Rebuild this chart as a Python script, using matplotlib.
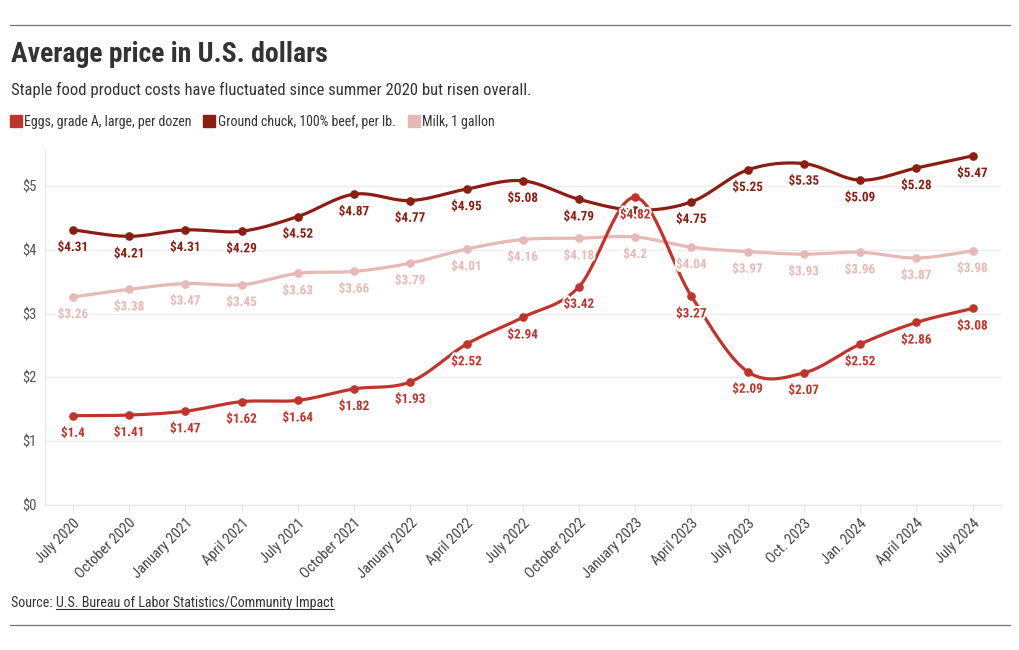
import numpy as np
import matplotlib
matplotlib.use("Agg")
import matplotlib.pyplot as plt
from matplotlib.lines import Line2D
import matplotlib.patheffects as pe

plt.rcParams['font.family'] = ['Roboto Condensed', 'Liberation Sans Narrow', 'Roboto', 'DejaVu Sans']

months = ["July 2020", "October 2020", "January 2021", "April 2021", "July 2021",
          "October 2021", "January 2022", "April 2022", "July 2022", "October 2022",
          "January 2023", "April 2023", "July 2023", "Oct. 2023", "Jan. 2024",
          "April 2024", "July 2024"]
eggs = [1.40, 1.41, 1.47, 1.62, 1.64, 1.82, 1.93, 2.52, 2.94, 3.42, 4.82,
        3.27, 2.09, 2.07, 2.52, 2.86, 3.08]
beef = [4.31, 4.21, 4.31, 4.29, 4.52, 4.87, 4.77, 4.95, 5.08, 4.79, 4.62,
        4.75, 5.25, 5.35, 5.09, 5.28, 5.47]
milk = [3.26, 3.38, 3.47, 3.45, 3.63, 3.66, 3.79, 4.01, 4.16, 4.18, 4.20,
        4.04, 3.97, 3.93, 3.96, 3.87, 3.98]
series_names = ["Eggs, grade A, large, per dozen", "Ground chuck, 100% beef, per lb.", "Milk, 1 gallon"]
colors = ["#c0342c", "#8c1d12", "#e7b9b5"]


def catmull_rom(y, n=30):
    # smooth curve through the points, like the original chart
    y = np.asarray(y, dtype=float)
    p = np.concatenate([[2 * y[0] - y[1]], y, [2 * y[-1] - y[-2]]])
    xs, ys = [], []
    for i in range(len(y) - 1):
        p0, p1, p2, p3 = p[i], p[i + 1], p[i + 2], p[i + 3]
        t = np.linspace(0, 1, n, endpoint=False)
        v = 0.5 * ((2 * p1) + (-p0 + p2) * t + (2 * p0 - 5 * p1 + 4 * p2 - p3) * t ** 2
                   + (-p0 + 3 * p1 - 3 * p2 + p3) * t ** 3)
        xs.append(i + t)
        ys.append(v)
    xs.append([len(y) - 1])
    ys.append([y[-1]])
    return np.concatenate(xs), np.concatenate(ys)


fig = plt.figure(figsize=(10.2, 6.5), dpi=100)
ax = fig.add_axes([0.044, 0.223, 0.937, 0.546])

x = np.arange(len(months))
halo = [pe.withStroke(linewidth=3, foreground="white")]
# draw milk, beef, then eggs on top
for data, col, z in [(milk, colors[2], 2), (beef, colors[1], 3), (eggs, colors[0], 4)]:
    sx, sy = catmull_rom(data)
    ax.plot(sx, sy, color=col, lw=2.3, zorder=z, solid_capstyle="round")
    ax.plot(x, data, "o", color=col, ms=5.2, zorder=z)
    for xi, v in zip(x, data):
        lbl = "$" + ("%.2f" % v).rstrip("0").rstrip(".") if v * 100 % 10 == 0 else "$%.2f" % v
        if col == colors[1] and months[xi] == "January 2023":
            continue
        ax.annotate(lbl, (xi, v), xytext=(0, -8), textcoords="offset points",
                    ha="center", va="top", fontsize=9.5, fontweight="bold",
                    color=col, path_effects=halo, zorder=z + 5)

ax.set_xlim(-0.5, 16.5)
ax.set_ylim(0, 5.56)
ax.set_yticks([0, 1, 2, 3, 4, 5])
ax.set_yticklabels(["$0", "$1", "$2", "$3", "$4", "$5"])
ax.set_xticks(x)
ax.set_xticklabels(months, rotation=45, ha="right", rotation_mode="anchor")
ax.tick_params(axis="y", length=0, labelsize=10.5, labelcolor="#555555", pad=6)
ax.tick_params(axis="x", length=5, color="#e6e6e6", labelsize=10.5, labelcolor="#444444", pad=3)
ax.grid(axis="y", color="#ececec", lw=1)
ax.set_axisbelow(True)
for s in ["top", "right"]:
    ax.spines[s].set_visible(False)
ax.spines["left"].set_color("#e6e6e6")
ax.spines["bottom"].set_color("#e6e6e6")

# header
fig.add_artist(Line2D([0.01, 0.99], [1 - 25 / 650] * 2, color="#777777", lw=0.9))
fig.add_artist(Line2D([0.01, 0.99], [1 - 625 / 650] * 2, color="#777777", lw=0.9))
fig.text(0.011, 1 - 55 / 650, "Average price in U.S. dollars", fontsize=20, fontweight="bold",
         color="#333333", va="center")
fig.text(0.011, 1 - 90 / 650, "Staple food product costs have fluctuated since summer 2020 but risen overall.",
         fontsize=12.0, color="#333333", va="center")

handles = [Line2D([], [], marker="s", ls="none", ms=9, color=c) for c in colors]
fig.legend(handles, series_names, loc="center left", bbox_to_anchor=(0.003, 1 - 122 / 650),
           ncol=3, frameon=False, fontsize=10, labelcolor="#333333", handletextpad=0.1,
           columnspacing=0.8, handlelength=1.0, borderaxespad=0)

t1 = fig.text(0.011, 1 - 603 / 650, "Source: ", fontsize=10.1, color="#333333", va="center")
fig.canvas.draw()
bb = t1.get_window_extent()
x2 = bb.x1 / fig.bbox.width
t2 = fig.text(x2, 1 - 603 / 650, "U.S. Bureau of Labor Statistics/Community Impact",
              fontsize=10.1, color="#333333", va="center")
fig.canvas.draw()
bb2 = t2.get_window_extent()
fig.add_artist(Line2D([bb2.x0 / fig.bbox.width, bb2.x1 / fig.bbox.width],
                      [(bb2.y0 + 1) / fig.bbox.height] * 2, color="#333333", lw=0.8))

fig.savefig("out.png", dpi=100)
